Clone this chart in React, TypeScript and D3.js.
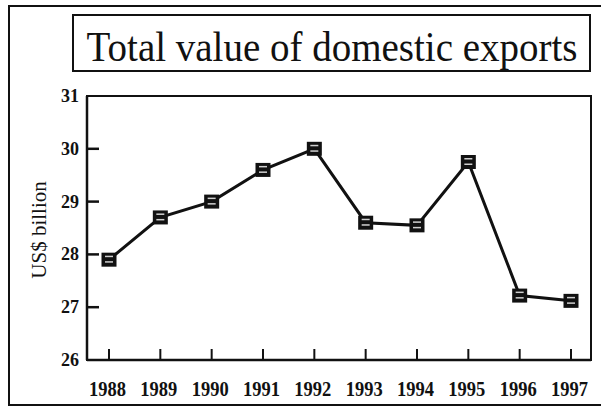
import React from "react";
import * as d3 from "d3";

const years = ["1988", "1989", "1990", "1991", "1992", "1993", "1994", "1995", "1996", "1997"];
const values = [27.9, 28.7, 29.0, 29.6, 30.0, 28.6, 28.55, 29.75, 27.22, 27.12];
const yTicks = [26, 27, 28, 29, 30, 31];
const title = "Total value of domestic exports";
const yLabel = "US$ billion";

const W = 601;
const H = 410;
const plot = { left: 87, right: 591, top: 96, bottom: 360 };
const font = "'Liberation Serif', 'Times New Roman', serif";

export default function App() {
  const x = d3.scalePoint<string>().domain(years).range([109, 571]);
  const y = d3.scaleLinear().domain([26, 31]).range([plot.bottom, plot.top]);
  const line = d3
    .line<number>()
    .x((_, i) => x(years[i]) as number)
    .y((d) => y(d));

  return (
    <svg width={W} height={H} style={{ position: "absolute", left: 0, top: 0, background: "#fff" }}>
      <rect x={0} y={0} width={W} height={H} fill="#fff" />
      {/* outer frame */}
      <path d={`M${W + 2},6 L9,6 L9,405 L${W + 2},405`} fill="none" stroke="#111" strokeWidth={2} />
      {/* title box */}
      <rect x={73} y={15} width={517} height={56} fill="none" stroke="#111" strokeWidth={2} />
      <text
        transform="translate(332,61) scale(1,1.1)"
        textAnchor="middle"
        fontFamily={font}
        fontSize={39}
        fill="#111"
      >
        {title}
      </text>
      {/* plot frame */}
      <rect
        x={plot.left}
        y={plot.top}
        width={plot.right - plot.left}
        height={plot.bottom - plot.top}
        fill="none"
        stroke="#111"
        strokeWidth={2}
      />
      <line x1={plot.left} x2={plot.left} y1={plot.top} y2={plot.bottom} stroke="#111" strokeWidth={2.5} />
      <line x1={plot.left} x2={plot.right} y1={plot.bottom} y2={plot.bottom} stroke="#111" strokeWidth={2.5} />
      {/* y ticks */}
      {yTicks.map((t) => (
        <g key={t}>
          {t > 26 && t < 31 && (
            <line x1={plot.left} x2={plot.left + 12} y1={y(t)} y2={y(t)} stroke="#111" strokeWidth={2.5} />
          )}
          <text
            x={79}
            y={y(t) + 6}
            textAnchor="end"
            fontFamily={font}
            fontSize={18}
            fontWeight="bold"
            fill="#111"
          >
            {t}
          </text>
        </g>
      ))}
      {/* x ticks */}
      {years.map((yr) => (
        <g key={yr}>
          <line
            x1={x(yr)}
            x2={x(yr)}
            y1={plot.bottom}
            y2={plot.bottom - 11}
            stroke="#111"
            strokeWidth={2}
          />
          <text
            x={(x(yr) as number) - 20}
            y={396}
            fontFamily={font}
            fontSize={20}
            fontWeight="bold"
            textLength={37}
            lengthAdjust="spacingAndGlyphs"
            fill="#111"
          >
            {yr}
          </text>
        </g>
      ))}
      {/* y label */}
      <text
        transform={`translate(46,230) rotate(-90)`}
        textAnchor="middle"
        fontFamily={font}
        fontSize={21}
        fill="#111"
      >
        {yLabel}
      </text>
      {/* line */}
      <path d={line(values) || ""} fill="none" stroke="#111" strokeWidth={3} />
      {/* markers */}
      {values.map((v, i) => {
        const cx = x(years[i]) as number;
        const cy = y(v);
        return (
          <g key={i}>
            <rect x={cx - 7.5} y={cy - 7} width={15} height={14} fill="#111" />
            <rect x={cx - 4} y={cy - 4} width={8} height={1.5} fill="#fff" opacity={0.8} />
            <rect x={cx - 4} y={cy + 1.5} width={8} height={1.5} fill="#fff" opacity={0.8} />
          </g>
        );
      })}
    </svg>
  );
}
